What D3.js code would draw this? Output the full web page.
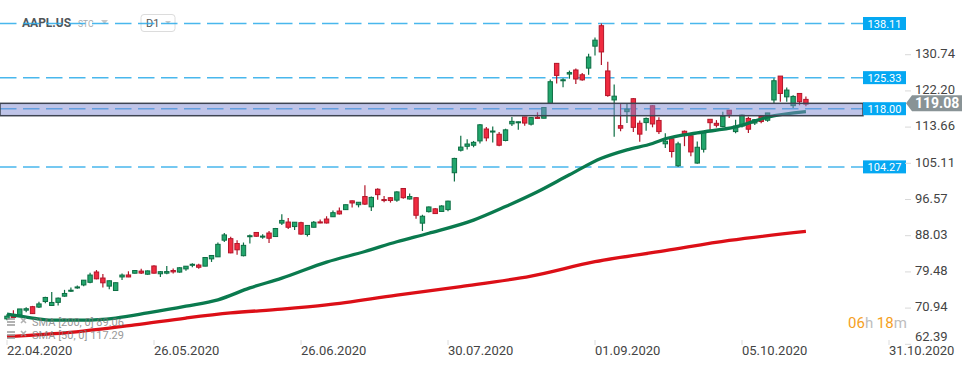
<!DOCTYPE html>
<html>
<head>
<meta charset="utf-8">
<script src="https://cdn.jsdelivr.net/npm/d3@7"></script>
<style>
  body { margin: 0; background: #fff; }
  svg { display: block; font-family: Roboto, "Noto Sans", sans-serif; }
</style>
</head>
<body>
<svg id="chart" width="974" height="368"></svg>
<script>
// daily candles AAPL.US, 22.04.2020 .. 19.10.2020 (one per trading day)
var openP = [68.40,68.97,69.30,70.45,71.27,71.18,72.49,71.56,72.29,73.76,75.11,75.81,76.41,77.03,79.46,78.04,76.13,75.09,78.29,78.76,79.17,79.67,78.94,
  80.88,79.04,79.19,79.81,79.44,80.19,81.17,81.10,80.84,82.56,83.04,86.97,87.33,86.18,83.31,87.86,88.79,87.85,88.66,87.83,91.00,91.25,90.18,91.10,
  88.31,90.02,91.28,91.96,92.50,93.85,94.18,96.26,95.34,97.27,94.84,98.99,96.56,96.99,96.42,99.17,96.69,97.00,90.99,93.71,94.37,93.75,94.19,
  102.89,108.20,109.13,109.38,110.40,113.21,112.60,111.97,110.50,114.43,114.83,116.06,114.35,115.98,115.75,119.26,128.70,124.70,126.18,127.14,126.01,
  127.58,132.76,137.59,126.91,120.07,114.00,117.30,120.36,114.57,114.72,118.70,115.23,109.72,110.90,104.54,112.68,111.62,105.17,108.43,115.50,
  114.55,113.79,117.64,112.60,113.91,115.70,114.62,116.25,115.28,120.06,125.70,120.80,118.72,121.60,120.20];
var highP = [69.47,70.44,70.75,71.14,71.46,72.42,73.63,74.75,73.42,75.25,75.81,76.29,77.59,79.26,79.92,78.99,77.45,76.97,79.13,79.63,79.88,80.22,79.81,
  81.06,79.68,80.86,80.29,80.59,80.86,81.55,81.40,82.94,83.40,86.40,88.69,87.76,86.95,86.42,88.30,88.85,88.36,89.14,89.86,93.10,92.20,91.25,91.33,
  90.54,91.50,91.84,92.62,93.95,94.66,95.38,96.32,95.98,99.96,97.26,99.25,97.41,97.15,98.50,99.25,97.98,97.08,92.97,94.91,94.55,95.23,96.30,
  106.42,111.64,110.79,110.39,114.41,113.68,113.78,112.48,113.28,116.04,115.00,116.09,116.00,117.16,118.39,124.87,128.79,125.18,126.99,127.49,126.44,
  131.00,134.80,138.11,129.10,123.70,119.20,119.30,120.50,115.23,115.93,118.83,116.00,112.20,111.10,110.19,112.86,112.11,110.25,112.44,115.32,
  115.31,117.26,117.72,115.40,116.65,116.12,115.55,116.40,117.00,125.18,125.39,123.03,121.20,121.55,120.90];
var lowP = [68.05,68.72,69.25,69.99,69.55,70.97,72.09,71.46,71.58,73.61,74.72,75.49,76.07,76.81,77.73,75.80,75.38,75.05,77.58,78.25,79.13,78.97,78.84,
  79.13,78.27,78.91,79.12,79.30,79.73,80.57,80.20,80.81,81.83,83.00,86.52,83.87,83.56,83.14,86.18,87.77,87.31,86.29,87.79,90.57,89.63,89.39,88.25,
  87.82,90.00,90.98,90.91,92.47,93.06,94.09,94.67,94.71,95.26,93.88,96.49,95.91,95.84,96.06,96.74,96.60,92.01,89.14,93.48,93.25,93.71,93.77,
  100.83,107.89,108.39,108.90,109.80,110.29,110.00,109.11,110.30,113.93,113.05,113.96,114.01,115.61,115.73,119.25,123.94,123.05,125.08,123.83,124.58,
  126.00,130.53,128.30,120.80,111.40,112.68,114.60,112.50,110.20,112.80,113.61,112.04,108.71,106.50,104.27,109.16,106.77,105.00,107.67,112.97,
  113.57,113.62,115.83,112.22,113.55,112.25,114.13,114.59,114.92,119.28,119.65,119.62,118.15,118.81,118.60];
var closeP = [69.03,68.76,70.74,70.79,69.64,71.93,73.45,72.27,73.29,74.39,75.16,75.93,77.53,78.75,77.85,76.91,77.39,76.93,78.74,78.29,79.81,79.21,79.72,
  79.18,79.53,79.56,79.49,80.46,80.83,81.28,80.58,82.88,83.36,85.99,88.21,83.98,84.70,85.75,88.02,87.90,87.93,87.43,89.72,91.63,90.02,91.21,88.41,
  90.45,91.20,91.03,91.03,93.46,93.17,95.34,95.75,95.92,95.48,97.06,97.72,96.52,96.33,98.36,97.00,97.27,92.85,92.62,94.81,93.25,95.04,96.19,
  106.26,108.94,109.67,110.06,114.20,111.11,112.73,109.38,113.01,115.01,114.91,114.61,115.90,115.71,118.28,124.37,125.86,124.83,126.52,125.01,124.81,
  130.20,134.18,131.40,121.10,120.96,113.40,117.90,113.60,112.00,115.70,114.40,112.60,110.34,107.90,109.70,112.00,107.80,108.90,112.50,114.70,
  114.09,116.20,116.70,113.90,116.50,113.16,115.40,114.97,117.00,124.60,121.60,122.40,120.90,119.65,119.08];

var xTickIdx = [0, 23, 46, 69, 92, 115, 138];
var xTickLabels = ["22.04.2020", "26.05.2020", "26.06.2020", "30.07.2020", "01.09.2020", "05.10.2020", "31.10.2020"];
var yTickLabels = ["130.74", "122.20", "113.66", "105.11", "96.57", "88.03", "79.48", "70.94", "62.39"];

var levels = [138.11, 125.33, 118.00, 104.27];
var zone = [116.35, 119.27];
var lastPrice = 119.08;

// moving averages (candle index, value)
var sma50Idx = [0, 4, 7, 12, 17, 22, 28, 33, 38, 43, 50, 56, 61, 66, 73, 78, 83, 88, 93, 97, 101, 103, 108, 114, 119, 125];
var sma50Val = [69.5, 68.6, 68.1, 68.1, 68.6, 69.8, 71.4, 72.9, 75.7, 78.0, 81.8, 84.3, 86.6, 88.6, 91.7, 94.9, 98.4, 102.4, 106.3, 108.3, 109.8, 110.9, 112.3, 113.7, 116.0, 117.29];
var sma200Idx = [0, 9, 20, 28, 35, 43, 50, 61, 71, 82, 92, 103, 113, 125];
var sma200Val = [64.2, 65.1, 67.0, 68.6, 69.8, 70.7, 71.7, 74.0, 76.0, 78.5, 81.9, 84.5, 86.9, 89.06];

var svg = d3.select("#chart");

var x = d3.scaleLinear().domain([0, 138]).range([7, 889]);
var y = d3.scaleLinear().domain([70.94, 138.11]).range([308.1, 23.5]);

var candles = openP.map(function(o, i) {
  return {i: i, o: o, h: highP[i], l: lowP[i], c: closeP[i]};
});

// header
var head = svg.append("g");
head.append("text").attr("x", 22).attr("y", 27).attr("font-size", 12).attr("font-weight", "bold")
  .attr("fill", "#505558").text("AAPL.US");
head.append("text").attr("x", 78).attr("y", 27).attr("font-size", 8.5).attr("fill", "#a8abae").text("STC");
head.append("path").attr("d", "M101,20L108,20L104.5,24Z").attr("fill", "#c8c8c8");
head.append("rect").attr("x", 141).attr("y", 14.5).attr("width", 34).attr("height", 17).attr("rx", 3)
  .attr("fill", "#fff").attr("stroke", "#dcdcdc");
head.append("text").attr("x", 146).attr("y", 27).attr("font-size", 11).attr("fill", "#555").text("D1");
head.append("path").attr("d", "M165,21L171,21L168,24Z").attr("fill", "#c8c8c8");

// horizontal levels
svg.append("g").selectAll("line").data(levels).join("line")
  .attr("x1", 0).attr("x2", 863)
  .attr("y1", function(d) { return y(d); }).attr("y2", function(d) { return y(d); })
  .attr("stroke", "#2aabea").attr("stroke-width", 1.5).attr("stroke-dasharray", "16.5,6.5")
  .attr("opacity", 0.85);

// candles
var cg = svg.append("g");
cg.selectAll("line").data(candles).join("line")
  .attr("x1", function(d) { return x(d.i); }).attr("x2", function(d) { return x(d.i); })
  .attr("y1", function(d) { return y(d.h); }).attr("y2", function(d) { return y(d.l); })
  .attr("stroke", function(d) { return d.c >= d.o ? "#0e6e44" : "#b3162a"; })
  .attr("stroke-width", 1.2);
cg.selectAll("rect").data(candles).join("rect")
  .attr("x", function(d) { return x(d.i) - 2.2; })
  .attr("width", 4.4)
  .attr("y", function(d) { return y(Math.max(d.o, d.c)); })
  .attr("height", function(d) { return Math.max(1, Math.abs(y(d.o) - y(d.c))); })
  .attr("fill", function(d) { return d.c >= d.o ? "#21a66c" : "#f02b40"; })
  .attr("stroke", function(d) { return d.c >= d.o ? "#0e6e44" : "#b3162a"; })
  .attr("stroke-width", 1);

// moving averages
var line = d3.line().curve(d3.curveMonotoneX)
  .x(function(d) { return x(d[0]); }).y(function(d) { return y(d[1]); });
svg.append("path").datum(d3.zip(sma200Idx, sma200Val)).attr("d", line)
  .attr("fill", "none").attr("stroke", "#dc0f17").attr("stroke-width", 3.3);
svg.append("path").datum(d3.zip(sma50Idx, sma50Val)).attr("d", line)
  .attr("fill", "none").attr("stroke", "#0a7a4e").attr("stroke-width", 3.3);

// zone box
svg.append("rect").attr("x", 0).attr("width", 863)
  .attr("y", y(zone[1])).attr("height", y(zone[0]) - y(zone[1]))
  .attr("fill", "#7f89d2").attr("fill-opacity", 0.5)
  .attr("stroke", "#3e4452").attr("stroke-width", 1.5);

// level tags
var tags = svg.append("g").selectAll("g").data(levels).join("g");
tags.append("rect").attr("x", 863).attr("width", 43).attr("height", 13)
  .attr("y", function(d) { return y(d) - 6.5; }).attr("fill", "#05a8f2");
tags.append("text").attr("x", 884.5).attr("y", function(d) { return y(d) + 4; })
  .attr("text-anchor", "middle").attr("font-size", 11).attr("fill", "#fff")
  .text(function(d) { return d.toFixed(2); });

// right axis
var ya = svg.append("g");
ya.selectAll("line").data(yTickLabels).join("line")
  .attr("x1", 905).attr("x2", 911)
  .attr("y1", function(d) { return y(+d); }).attr("y2", function(d) { return y(+d); })
  .attr("stroke", "#d8d8d8");
ya.selectAll("text").data(yTickLabels).join("text")
  .attr("x", 915).attr("y", function(d) { return Math.min(y(+d) + 3.2, 341); })
  .attr("font-size", 13).attr("fill", "#444").text(function(d) { return d; });

// last price tag
var py = y(lastPrice) - 0.8;
svg.append("path")
  .attr("d", "M906," + py + "L912," + (py - 8) + "L962," + (py - 8) + "L962," + (py + 8) + "L912," + (py + 8) + "Z")
  .attr("fill", "#899396");
svg.append("text").attr("x", 915).attr("y", py + 5).attr("font-size", 14).attr("font-weight", "bold")
  .attr("fill", "#fff").text(lastPrice.toFixed(2));

// bottom axis
var xa = svg.append("g");
xa.selectAll("line").data(xTickIdx).join("line")
  .attr("x1", function(d) { return x(d); }).attr("x2", function(d) { return x(d); })
  .attr("y1", 340).attr("y2", 345).attr("stroke", "#dcdcdc");
xa.selectAll("text").data(xTickIdx).join("text")
  .attr("x", function(d) { return x(d); }).attr("y", 355)
  .attr("font-size", 13).attr("fill", "#444")
  .text(function(d, i) { return xTickLabels[i]; });

// indicator legend
var leg = svg.append("g").attr("opacity", 0.75);
[["SMA [200, 0] 89.06", 326], ["SMA [50, 0] 117.29", 339]].forEach(function(r) {
  var ly = r[1];
  leg.append("rect").attr("x", 7).attr("y", ly - 8).attr("width", 8).attr("height", 2).attr("fill", "#999");
  leg.append("rect").attr("x", 7).attr("y", ly - 5).attr("width", 8).attr("height", 2).attr("fill", "#999");
  leg.append("rect").attr("x", 7).attr("y", ly - 2).attr("width", 8).attr("height", 2).attr("fill", "#999");
  leg.append("path").attr("d", "M21," + (ly - 8) + "L26," + (ly - 3) + "M26," + (ly - 8) + "L21," + (ly - 3))
    .attr("stroke", "#999").attr("stroke-width", 1.6);
  leg.append("text").attr("x", 32).attr("y", ly).attr("font-size", 11).attr("fill", "#777").text(r[0]);
});

// candle countdown
var cd = svg.append("text").attr("x", 848).attr("y", 328).attr("font-size", 15);
cd.append("tspan").attr("fill", "#f5a01e").text("06");
cd.append("tspan").attr("fill", "#bdbdbd").text("h ");
cd.append("tspan").attr("fill", "#f5a01e").text("18");
cd.append("tspan").attr("fill", "#bdbdbd").text("m");
</script>
</body>
</html>
